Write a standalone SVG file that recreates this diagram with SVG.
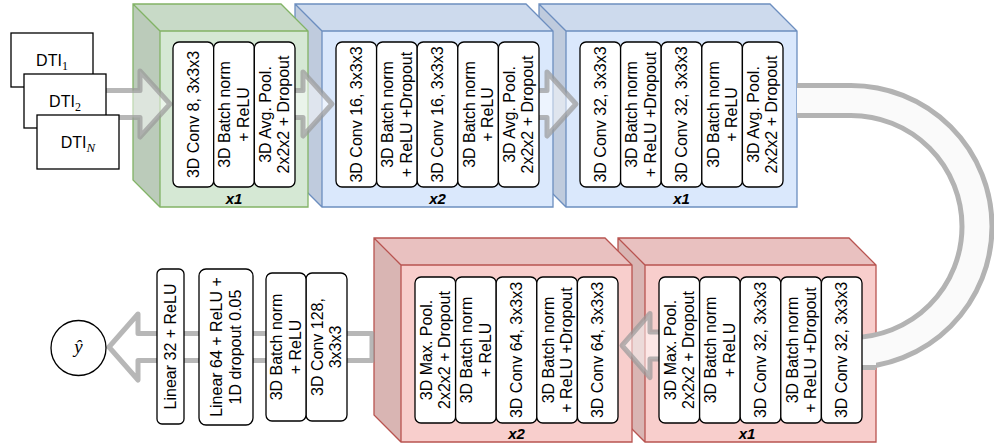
<svg xmlns="http://www.w3.org/2000/svg" width="994" height="446" viewBox="0 0 994 446">
<style>
.bg{fill:#fff}
.face{stroke:none}
.top{fill:#000;fill-opacity:.06;stroke:none}
.left{fill:#000;fill-opacity:.12;stroke:none}
.edge{fill:none;stroke-width:1.3;stroke-linejoin:miter}
.green .face{fill:#d5e8d4}.green .edge{stroke:#82b366}
.blue .face{fill:#dae8fc}.blue .edge{stroke:#6c8ebf}
.red .face{fill:#f8cecc}.red .edge{stroke:#b85450}
.box{fill:#fff;stroke:#000;stroke-width:1.3}
.t{font-family:"Liberation Sans",Arial,sans-serif;font-size:16px;fill:#000;text-anchor:middle}
.lbl{font-family:"Liberation Sans",Arial,sans-serif;font-size:15px;font-weight:bold;font-style:italic;text-anchor:middle;fill:#000}
.arrow{fill:#fff;fill-opacity:.5;stroke:#999;stroke-opacity:.7;stroke-width:5;stroke-linejoin:round}
.ush{fill:none;stroke:#b3b3b3;stroke-width:35}
.usi{fill:none;stroke:#fafafa;stroke-width:25}
.serif{font-family:"Liberation Serif","DejaVu Serif",serif}
.it{font-style:italic}
</style>
<rect class="bg" x="0" y="0" width="994" height="446"/>

<!-- cubes (right ones first so left ones lie on top) -->
<g id="block-blue-2" class="cube blue">
<path class="face" d="M539,4H770L797,31V207H566L539,180Z"/>
<path class="top" d="M539,4H770L797,31H566Z"/>
<path class="left" d="M539,4L566,31V207L539,180Z"/>
<path class="edge" d="M539,4H770L797,31V207H566L539,180Z M539,4L566,31H797 M566,31V207"/>
</g>
<g id="block-blue-1" class="cube blue">
<path class="face" d="M295,4H526L553,31V207H322L295,180Z"/>
<path class="top" d="M295,4H526L553,31H322Z"/>
<path class="left" d="M295,4L322,31V207L295,180Z"/>
<path class="edge" d="M295,4H526L553,31V207H322L295,180Z M295,4L322,31H553 M322,31V207"/>
</g>
<g id="block-green" class="cube green">
<path class="face" d="M133,4H281L308,31V207H160L133,180Z"/>
<path class="top" d="M133,4H281L308,31H160Z"/>
<path class="left" d="M133,4L160,31V207L133,180Z"/>
<path class="edge" d="M133,4H281L308,31V207H160L133,180Z M133,4L160,31H308 M160,31V207"/>
</g>
<g id="block-red-2" class="cube red">
<path class="face" d="M618,238H849L876,265V442H645L618,415Z"/>
<path class="top" d="M618,238H849L876,265H645Z"/>
<path class="left" d="M618,238L645,265V442L618,415Z"/>
<path class="edge" d="M618,238H849L876,265V442H645L618,415Z M618,238L645,265H876 M645,265V442"/>
</g>
<g id="block-red-1" class="cube red">
<path class="face" d="M374,238H605L632,265V442H401L374,415Z"/>
<path class="top" d="M374,238H605L632,265H401Z"/>
<path class="left" d="M374,238L401,265V442L374,415Z"/>
<path class="edge" d="M374,238H605L632,265V442H401L374,415Z M374,238L401,265H632 M401,265V442"/>
</g>

<!-- connectors -->
<g id="connectors">
<path class="ush" d="M797,100.5H851A126,126 0 0 1 851,352.5H876"/>
<path class="usi" d="M797,100.5H851A126,126 0 0 1 851,352.5H876"/>
<polygon class="arrow" points="100,90.5 140,90.5 140,71 170,104 140,137 140,117.5 100,117.5"/>
<polygon class="arrow" points="290,90.5 303,90.5 303,72 332,104 303,136 303,117.5 290,117.5"/>
<polygon class="arrow" points="534,90.5 547,90.5 547,72 576,104 547,136 547,117.5 534,117.5"/>
<polygon class="arrow" points="665,332 650,332 650,313.5 622,345.5 650,377.5 650,359 665,359"/>
<polygon class="arrow" points="372,333.5 138,333.5 138,314 109,347 138,380 138,360.5 372,360.5"/>
</g>

<!-- input nodes -->
<g id="dti-1"><rect class="box" x="11" y="33" width="82" height="54"/>
<text class="t" x="52" y="66">DTI<tspan class="serif" font-size="12" dy="4">1</tspan></text></g>
<g id="dti-2"><rect class="box" x="24" y="74" width="82" height="54"/>
<text class="t" x="65" y="107">DTI<tspan class="serif" font-size="12" dy="4">2</tspan></text></g>
<g id="dti-n"><rect class="box" x="37" y="115" width="82" height="54"/>
<text class="t" x="78" y="148">DTI<tspan class="serif it" font-size="13" dy="4">N</tspan></text></g>

<!-- green block layers -->
<g id="g-conv8"><rect class="box" x="173" y="42" width="40.67" height="145" rx="6"/>
<text class="t" transform="translate(193.3,114.5) rotate(-90)" y="5.6">3D Conv 8, 3x3x3</text></g>
<g id="g-bn"><rect class="box" x="213.67" y="42" width="40.67" height="145" rx="6"/>
<text class="t" transform="translate(234,114.5) rotate(-90)"><tspan x="0" y="-3.6">3D Batch norm</tspan><tspan x="0" y="14.8">+ ReLU</tspan></text></g>
<g id="g-pool"><rect class="box" x="254.33" y="42" width="40.67" height="145" rx="6"/>
<text class="t" transform="translate(274.7,114.5) rotate(-90)"><tspan x="0" y="-3.6">3D Avg. Pool.</tspan><tspan x="0" y="14.8">2x2x2 + Dropout</tspan></text></g>
<text class="lbl" x="234" y="204">x1</text>

<!-- blue block 1 layers -->
<g id="b1-conv-a"><rect class="box" x="336" y="42" width="40.6" height="145" rx="6"/>
<text class="t" transform="translate(356.3,114.5) rotate(-90)" y="5.6">3D Conv 16, 3x3x3</text></g>
<g id="b1-bn-a"><rect class="box" x="376.6" y="42" width="40.6" height="145" rx="6"/>
<text class="t" transform="translate(396.9,114.5) rotate(-90)"><tspan x="0" y="-3.6">3D Batch norm</tspan><tspan x="0" y="14.8">+ ReLU +Dropout</tspan></text></g>
<g id="b1-conv-b"><rect class="box" x="417.2" y="42" width="40.6" height="145" rx="6"/>
<text class="t" transform="translate(437.5,114.5) rotate(-90)" y="5.6">3D Conv 16, 3x3x3</text></g>
<g id="b1-bn-b"><rect class="box" x="457.8" y="42" width="40.6" height="145" rx="6"/>
<text class="t" transform="translate(478.1,114.5) rotate(-90)"><tspan x="0" y="-3.6">3D Batch norm</tspan><tspan x="0" y="14.8">+ ReLU</tspan></text></g>
<g id="b1-pool"><rect class="box" x="498.4" y="42" width="40.6" height="145" rx="6"/>
<text class="t" transform="translate(518.7,114.5) rotate(-90)"><tspan x="0" y="-3.6">3D Avg. Pool.</tspan><tspan x="0" y="14.8">2x2x2 + Dropout</tspan></text></g>
<text class="lbl" x="437.5" y="204">x2</text>

<!-- blue block 2 layers -->
<g id="b2-conv-a"><rect class="box" x="580" y="42" width="40.6" height="145" rx="6"/>
<text class="t" transform="translate(600.3,114.5) rotate(-90)" y="5.6">3D Conv 32, 3x3x3</text></g>
<g id="b2-bn-a"><rect class="box" x="620.6" y="42" width="40.6" height="145" rx="6"/>
<text class="t" transform="translate(640.9,114.5) rotate(-90)"><tspan x="0" y="-3.6">3D Batch norm</tspan><tspan x="0" y="14.8">+ ReLU +Dropout</tspan></text></g>
<g id="b2-conv-b"><rect class="box" x="661.2" y="42" width="40.6" height="145" rx="6"/>
<text class="t" transform="translate(681.5,114.5) rotate(-90)" y="5.6">3D Conv 32, 3x3x3</text></g>
<g id="b2-bn-b"><rect class="box" x="701.8" y="42" width="40.6" height="145" rx="6"/>
<text class="t" transform="translate(722.1,114.5) rotate(-90)"><tspan x="0" y="-3.6">3D Batch norm</tspan><tspan x="0" y="14.8">+ ReLU</tspan></text></g>
<g id="b2-pool"><rect class="box" x="742.4" y="42" width="40.6" height="145" rx="6"/>
<text class="t" transform="translate(762.7,114.5) rotate(-90)"><tspan x="0" y="-3.6">3D Avg. Pool.</tspan><tspan x="0" y="14.8">2x2x2 + Dropout</tspan></text></g>
<text class="lbl" x="681.5" y="204">x1</text>

<!-- red block 1 layers -->
<g id="r1-pool"><rect class="box" x="415" y="277" width="40.6" height="146" rx="6"/>
<text class="t" transform="translate(435.3,350) rotate(-90)"><tspan x="0" y="-3.6">3D Max. Pool.</tspan><tspan x="0" y="14.8">2x2x2 + Dropout</tspan></text></g>
<g id="r1-bn-b"><rect class="box" x="455.6" y="277" width="40.6" height="146" rx="6"/>
<text class="t" transform="translate(475.9,350) rotate(-90)"><tspan x="0" y="-3.6">3D Batch norm</tspan><tspan x="0" y="14.8">+ ReLU</tspan></text></g>
<g id="r1-conv-b"><rect class="box" x="496.2" y="277" width="40.6" height="146" rx="6"/>
<text class="t" transform="translate(516.5,350) rotate(-90)" y="5.6">3D Conv 64, 3x3x3</text></g>
<g id="r1-bn-a"><rect class="box" x="536.8" y="277" width="40.6" height="146" rx="6"/>
<text class="t" transform="translate(557.1,350) rotate(-90)"><tspan x="0" y="-3.6">3D Batch norm</tspan><tspan x="0" y="14.8">+ ReLU +Dropout</tspan></text></g>
<g id="r1-conv-a"><rect class="box" x="577.4" y="277" width="40.6" height="146" rx="6"/>
<text class="t" transform="translate(597.7,350) rotate(-90)" y="5.6">3D Conv 64, 3x3x3</text></g>
<text class="lbl" x="516.5" y="439">x2</text>

<!-- red block 2 layers -->
<g id="r2-pool"><rect class="box" x="659" y="277" width="40.6" height="146" rx="6"/>
<text class="t" transform="translate(679.3,350) rotate(-90)"><tspan x="0" y="-3.6">3D Max. Pool.</tspan><tspan x="0" y="14.8">2x2x2 + Dropout</tspan></text></g>
<g id="r2-bn-b"><rect class="box" x="699.6" y="277" width="40.6" height="146" rx="6"/>
<text class="t" transform="translate(719.9,350) rotate(-90)"><tspan x="0" y="-3.6">3D Batch norm</tspan><tspan x="0" y="14.8">+ ReLU</tspan></text></g>
<g id="r2-conv-b"><rect class="box" x="740.2" y="277" width="40.6" height="146" rx="6"/>
<text class="t" transform="translate(760.5,350) rotate(-90)" y="5.6">3D Conv 32, 3x3x3</text></g>
<g id="r2-bn-a"><rect class="box" x="780.8" y="277" width="40.6" height="146" rx="6"/>
<text class="t" transform="translate(801.1,350) rotate(-90)"><tspan x="0" y="-3.6">3D Batch norm</tspan><tspan x="0" y="14.8">+ ReLU +Dropout</tspan></text></g>
<g id="r2-conv-a"><rect class="box" x="821.4" y="277" width="40.6" height="146" rx="6"/>
<text class="t" transform="translate(841.7,350) rotate(-90)" y="5.6">3D Conv 32, 3x3x3</text></g>
<text class="lbl" x="747" y="439">x1</text>

<!-- head layers -->
<g id="conv128"><rect class="box" x="306" y="273" width="41" height="148" rx="6"/>
<text class="t" transform="translate(326.5,347) rotate(-90)"><tspan x="0" y="-3.6">3D Conv 128,</tspan><tspan x="0" y="14.8">3x3x3</tspan></text></g>
<g id="bn128"><rect class="box" x="266" y="273" width="40" height="148" rx="6"/>
<text class="t" transform="translate(286,347) rotate(-90)"><tspan x="0" y="-3.6">3D Batch norm</tspan><tspan x="0" y="14.8">+ ReLU</tspan></text></g>
<g id="linear64"><rect class="box" x="199" y="269" width="54" height="156" rx="7"/>
<text class="t" transform="translate(226,347) rotate(-90)"><tspan x="0" y="-3.6">Linear 64 + ReLU +</tspan><tspan x="0" y="14.8">1D dropout 0.05</tspan></text></g>
<g id="linear32"><rect class="box" x="157" y="269" width="27" height="155" rx="5"/>
<text class="t" transform="translate(170.5,346.5) rotate(-90)" y="5.6">Linear 32 + ReLU</text></g>
<g id="output"><circle class="box" cx="78.5" cy="348" r="27.5"/>
<text class="serif it" x="78.5" y="353" font-size="19" text-anchor="middle">ŷ</text></g>
</svg>
